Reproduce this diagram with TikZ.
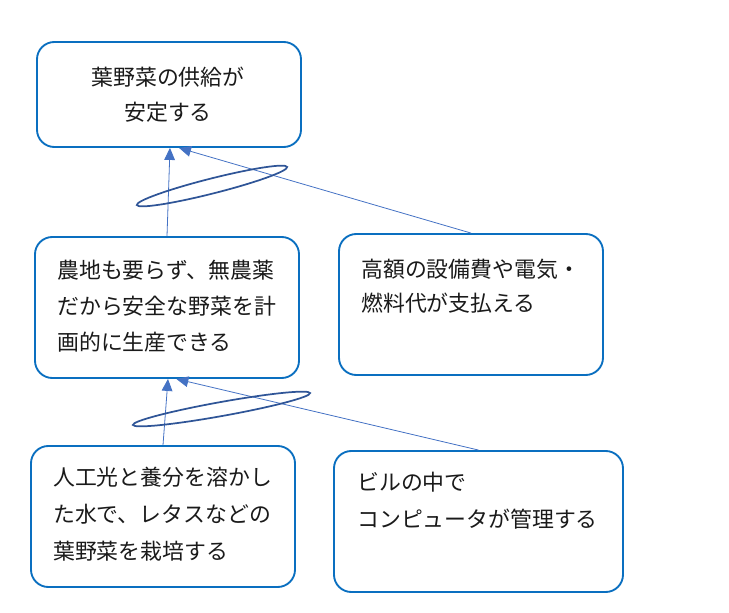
\documentclass[tikz,border=0pt]{standalone}
\usepackage{fontspec}
\usepackage{xcolor}
\usetikzlibrary{arrows.meta,calc,positioning}
\newfontfamily\jpfont{Noto Sans CJK JP}
\definecolor{FarmBorder}{HTML}{0A6FC0}
\definecolor{FarmLink}{HTML}{4472C4}
\definecolor{FarmRing}{HTML}{2F5597}
\definecolor{FarmText}{HTML}{1A1A1A}
\tikzset{
  farmbox/.style={draw=FarmBorder,line width=1.4pt,rounded corners=13pt,
    fill=white,minimum width=198pt,minimum height=105.75pt,inner sep=0pt},
  farmtext/.style={text=FarmText,anchor=base west,align=left,inner sep=0pt,
    font=\jpfont\fontsize{16.4}{27}\selectfont},
  farmlink/.style={draw=FarmLink,line width=0.6pt,
    -{Triangle[length=9pt,width=8pt]}},
  farmring/.style={draw=FarmRing,line width=1.3pt}
}

\begin{document}
\begin{tikzpicture}[x=0.75pt,y=-0.75pt]
        \useasboundingbox (0,0) rectangle (729,613);

        % boxes
        \node[farmbox,minimum height=78.75pt] (supply) at (169,94.5) {};
        \node[farmbox] (plant) at (167,307.5) {};
        \node[farmbox] (cost) at (471,304.5) {};
        \node[farmbox] (light) at (163,516.5) {};
        \node[farmbox,minimum width=216.75pt] (control) at (478.5,521.5) {};

        % texts (base = last line)
        \node[farmtext,anchor=base,align=center,
          font=\jpfont\fontsize{16.4}{26.25}\selectfont] (supplyText)
          at (168,121) {葉野菜の供給が\\安定する};
        \node[farmtext] (plantText) at (57,350)
          {農地も要らず、無農薬\\だから安全な野菜を計\\画的に生産できる};
        \node[farmtext,font=\jpfont\fontsize{16.4}{25.5}\selectfont]
          (costText) at (361,311)
          {高額の設備費や電気・\\燃料代が支払える};
        \node[farmtext,font=\jpfont\fontsize{16.4}{27.75}\selectfont]
          (lightText) at (53,559)
          {人工光と養分を溶かし\\た水で、レタスなどの\\葉野菜を栽培する};
        \node[farmtext,font=\jpfont\fontsize{16.4}{27.75}\selectfont]
          (controlText) at (357,527)
          {ビルの中で\\コンピュータが管理する};

        % links
        \draw[farmlink] (plant.north) -- ([xshift=0.75pt]supply.south);
        \draw[farmlink] (cost.north) -- ([xshift=7.5pt]supply.south);
        \draw[farmlink] (light.north) -- ([xshift=0.75pt]plant.south);
        \draw[farmlink] (control.north) -- ([xshift=7pt]plant.south);

        % and-rings
        \draw[farmring] (212,186) ellipse[x radius=77.5,y radius=7.5,rotate=14.2];
        \draw[farmring] (221.5,409) ellipse[x radius=90,y radius=7,rotate=10.2];
      \end{tikzpicture}
\end{document}
